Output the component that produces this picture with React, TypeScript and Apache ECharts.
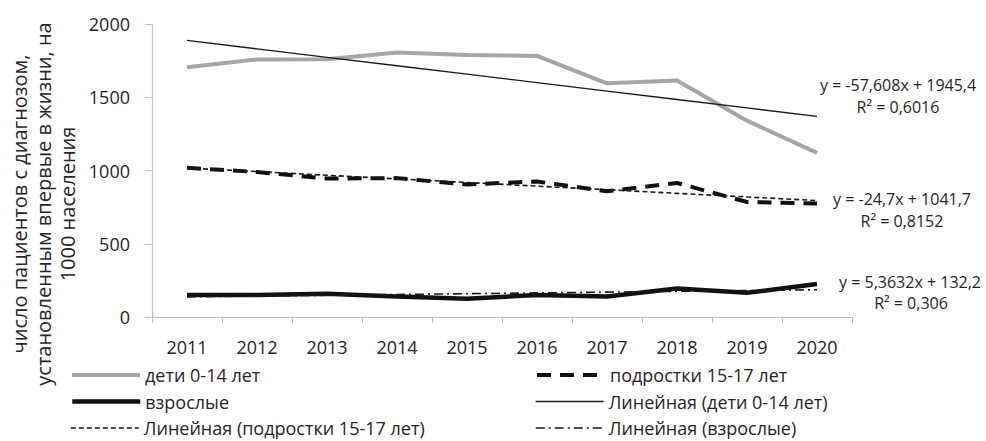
import React, { useEffect, useRef } from "react";
import * as echarts from "echarts";

const years = ["2011", "2012", "2013", "2014", "2015", "2016", "2017", "2018", "2019", "2020"];
const children = [1705, 1758, 1760, 1805, 1788, 1782, 1595, 1615, 1340, 1120];
const teens = [1018, 990, 945, 948, 905, 925, 858, 915, 785, 775];
const adults = [150, 150, 158, 140, 125, 150, 140, 195, 165, 225];

// trend-line coefficients
const trendChildren = { slope: -57.608, intercept: 1945.4, label: "y = -57,608x + 1945,4", r2: "R² = 0,6016" };
const trendTeens = { slope: -24.7, intercept: 1041.7, label: "y = -24,7x + 1041,7", r2: "R² = 0,8152" };
const trendAdults = { slope: 5.3632, intercept: 132.2, label: "y = 5,3632x + 132,2", r2: "R² = 0,306" };

const yTicks = { min: 0, max: 2000, interval: 500 };
const yAxisName = ["число пациентов с диагнозом,", "установленным впервые в жизни, на", "1000 населения"];

const FONT = "Open Sans";

function trend(t: { slope: number; intercept: number }) {
  return years.map((_, i) => +(t.intercept + t.slope * (i + 1)).toFixed(2));
}

export default function App() {
  const ref = useRef<HTMLDivElement>(null);
  useEffect(() => {
    if (!ref.current) return;
    const chart = echarts.init(ref.current, null, { renderer: "svg" });
    const textStyle = { fontFamily: FONT, fontSize: 18, color: "#262626" };
    const legendText = { fontFamily: FONT, fontSize: 18, color: "#262626", lineHeight: 20 };
    const eqStyle = (text: string, x: number, y: number) => ({
      type: "text",
      x,
      y,
      style: { text, fontFamily: FONT, fontSize: 16, fill: "#262626", textAlign: "center", textVerticalAlign: "middle" },
    });
    const legendItem = (name: string, width: number, left: number, centerY: number) => ({
      orient: "horizontal",
      left,
      top: centerY - 10,
      padding: 0,
      itemWidth: 68,
      itemHeight: 4,
      itemStyle: { opacity: 0 },
      textStyle: legendText,
      data: [{ name, lineStyle: { width } }],
    });
    chart.setOption({
      animation: false,
      textStyle: { fontFamily: FONT },
      grid: { left: 152, right: 134, top: 24, bottom: 124, containLabel: false },
      xAxis: {
        type: "category",
        data: years,
        boundaryGap: true,
        axisLine: { lineStyle: { color: "#bfbfbf", width: 1.2 } },
        axisTick: { show: true, length: 6, alignWithLabel: false, lineStyle: { color: "#bfbfbf" } },
        axisLabel: { ...textStyle, margin: 21 },
      },
      yAxis: {
        type: "value",
        min: yTicks.min,
        max: yTicks.max,
        interval: yTicks.interval,
        splitLine: { show: false },
        axisLine: { show: true, lineStyle: { color: "#bfbfbf", width: 1.2 } },
        axisTick: { show: true, length: 7, lineStyle: { color: "#bfbfbf" } },
        axisLabel: { ...textStyle, margin: 22, formatter: (v: number) => String(v) },
      },
      legend: [
        legendItem("дети 0-14 лет", 4, 70, 375),
        legendItem("взрослые", 4.5, 70, 401.5),
        legendItem("Линейная (подростки 15-17 лет)", 1.6, 70, 428),
        legendItem("подростки 15-17 лет", 4, 535, 375),
        legendItem("Линейная (дети 0-14 лет)", 1.3, 535, 401.5),
        legendItem("Линейная (взрослые)", 1.6, 535, 428),
      ],
      series: [
        {
          name: "дети 0-14 лет",
          type: "line",
          data: children,
          symbol: "none",
          lineStyle: { color: "#a6a6a6", width: 4 },
          itemStyle: { color: "#a6a6a6" },
        },
        {
          name: "подростки 15-17 лет",
          type: "line",
          data: teens,
          symbol: "none",
          lineStyle: { color: "#111", width: 4, type: [14, 9] },
          itemStyle: { color: "#111" },
        },
        {
          name: "взрослые",
          type: "line",
          data: adults,
          symbol: "none",
          lineStyle: { color: "#111", width: 4.5 },
          itemStyle: { color: "#111" },
        },
        {
          name: "Линейная (дети 0-14 лет)",
          type: "line",
          data: trend(trendChildren),
          symbol: "none",
          lineStyle: { color: "#1a1a1a", width: 1.3 },
          itemStyle: { color: "#1a1a1a" },
        },
        {
          name: "Линейная (подростки 15-17 лет)",
          type: "line",
          data: trend(trendTeens),
          symbol: "none",
          lineStyle: { color: "#1a1a1a", width: 1.6, type: [5, 3] },
          itemStyle: { color: "#1a1a1a" },
        },
        {
          name: "Линейная (взрослые)",
          type: "line",
          data: trend(trendAdults),
          symbol: "none",
          lineStyle: { color: "#1a1a1a", width: 1.6, type: [9, 4, 2, 4] },
          itemStyle: { color: "#1a1a1a" },
        },
      ],
      graphic: [
        {
          type: "text",
          x: 43,
          y: 204,
          rotation: Math.PI / 2,
          style: {
            text: yAxisName.join("\n"),
            fontFamily: FONT,
            fontSize: 20,
            lineHeight: 24,
            fill: "#262626",
            textAlign: "center",
            textVerticalAlign: "middle",
          },
        },
        eqStyle(trendChildren.label, 898, 85),
        eqStyle(trendChildren.r2, 898, 107),
        eqStyle(trendTeens.label, 902, 199),
        eqStyle(trendTeens.r2, 902, 221),
        eqStyle(trendAdults.label, 910, 282),
        eqStyle(trendAdults.r2, 911, 303),
      ],
    });
    return () => chart.dispose();
  }, []);
  return <div ref={ref} style={{ width: 986, height: 441, position: "absolute", left: 0, top: 0 }} />;
}
